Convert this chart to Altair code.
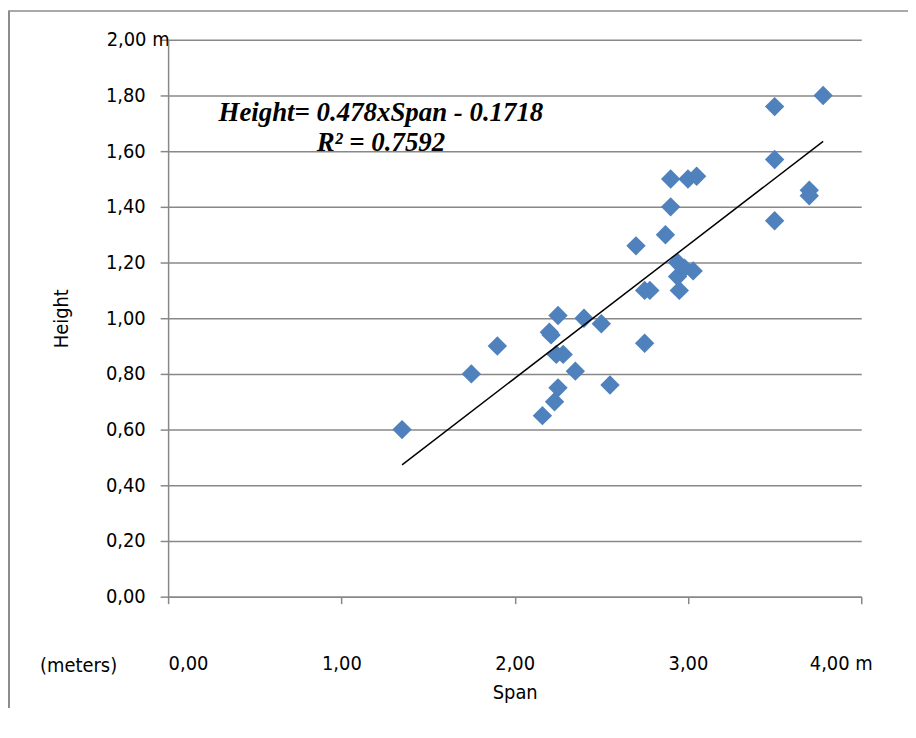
import altair as alt
import pandas as pd

span = [1.35, 1.75, 1.90, 2.16, 2.20, 2.21, 2.23, 2.24, 2.25, 2.25, 2.28, 2.35,
        2.40, 2.50, 2.55, 2.70, 2.75, 2.75, 2.78, 2.87, 2.90, 2.90, 2.94, 2.94,
        2.95, 2.98, 3.00, 3.03, 3.05, 3.50, 3.50, 3.50, 3.70, 3.70, 3.78]
height = [0.60, 0.80, 0.90, 0.65, 0.95, 0.94, 0.70, 0.87, 0.75, 1.01, 0.87, 0.81,
          1.00, 0.98, 0.76, 1.26, 0.91, 1.10, 1.10, 1.30, 1.40, 1.50, 1.20, 1.15,
          1.10, 1.18, 1.50, 1.17, 1.51, 1.35, 1.57, 1.76, 1.44, 1.46, 1.80]
slope = 0.478
intercept = -0.1718
eq_lines = ["Height= 0.478xSpan - 0.1718", "R² = 0.7592"]
x_ticks = [0, 1, 2, 3, 4]
y_ticks = [0, 0.2, 0.4, 0.6, 0.8, 1.0, 1.2, 1.4, 1.6, 1.8, 2.0]

FONT = "DejaVu Sans Condensed, Roboto, sans-serif"
GRAY = "#888888"

df = pd.DataFrame({"Span": span, "Height": height})
xs = [min(span), max(span)]
trend = pd.DataFrame({"Span": xs, "Height": [slope * v + intercept for v in xs]})
eq = pd.DataFrame({"x": [1.228, 1.228], "y": [1.707, 1.600], "t": eq_lines})

xscale = alt.Scale(domain=[0, 4], nice=False, zero=True)
yscale = alt.Scale(domain=[0, 2], nice=False, zero=True)

xaxis = alt.Axis(
    values=x_ticks, grid=False, domainColor=GRAY, domainWidth=1.5,
    tickColor=GRAY, tickSize=7, tickWidth=1.5,
    labelExpr="replace(format(datum.value,'.2f'),'.',',') + (datum.value == 4 ? ' m' : '')",
    labelFont=FONT, labelFontSize=20, labelColor="#000000", labelPadding=50,
    labelOffset={"condition": {"test": "datum.value == 4", "value": 11}, "value": 0},
    title="Span", titleFont=FONT, titleFontSize=20, titleFontWeight="normal",
    titleColor="#000000", titleY=102, titleBaseline="alphabetic",
)
yaxis = alt.Axis(
    values=y_ticks, grid=True, gridColor=GRAY, gridWidth=1.5,
    domainColor=GRAY, domainWidth=1.5, tickColor=GRAY, tickSize=8, tickWidth=1.5,
    labelExpr="replace(format(datum.value,'.2f'),'.',',') + (datum.value == 2 ? ' m' : '')",
    labelFont=FONT, labelFontSize=20, labelColor="#000000",
    labelPadding={"condition": {"test": "datum.value == 2", "value": -9}, "value": 15},
    title="Height", titleFont=FONT, titleFontSize=20, titleFontWeight="normal",
    titleColor="#000000", titleX=-97, titleY=280,
)

points = alt.Chart(df).mark_point(
    shape="diamond", filled=True, size=380, color="#4f81bd", opacity=1
).encode(
    x=alt.X("Span:Q", scale=xscale, axis=xaxis),
    y=alt.Y("Height:Q", scale=yscale, axis=yaxis),
)

line = alt.Chart(trend).mark_line(color="#000000", strokeWidth=1.5).encode(
    x=alt.X("Span:Q", scale=xscale),
    y=alt.Y("Height:Q", scale=yscale),
)

eqtext = alt.Chart(eq).mark_text(
    font="Liberation Serif", fontSize=27, fontWeight="bold", fontStyle="italic",
    align="center", baseline="alphabetic", color="#000000",
).encode(
    x=alt.X("x:Q", scale=xscale),
    y=alt.Y("y:Q", scale=yscale),
    text="t:N",
)

meters = alt.Chart(pd.DataFrame({"t": ["(meters)"]})).mark_text(
    font=FONT, fontSize=20, align="center", baseline="alphabetic", color="#000000"
).encode(x=alt.value(-90), y=alt.value(636), text="t:N")

frame_top = alt.Chart(pd.DataFrame({"a": [0]})).mark_rule(
    color="#8c8c8c", strokeWidth=1.5
).encode(x=alt.value(-161), x2=alt.value(760), y=alt.value(-29))
frame_left = alt.Chart(pd.DataFrame({"a": [0]})).mark_rule(
    color="#8c8c8c", strokeWidth=2
).encode(x=alt.value(-160), y=alt.value(-29), y2=alt.value(700))

chart = alt.layer(frame_top, frame_left, points, line, eqtext, meters).properties(
    width=697, height=560,
    autosize=alt.AutoSizeParams(type="none"),
    padding={"left": 161, "top": 30, "right": 47, "bottom": 110},
    background="#ffffff",
).configure_view(stroke=None)

chart.save("out.html", embed_options={"renderer": "svg", "actions": False})
